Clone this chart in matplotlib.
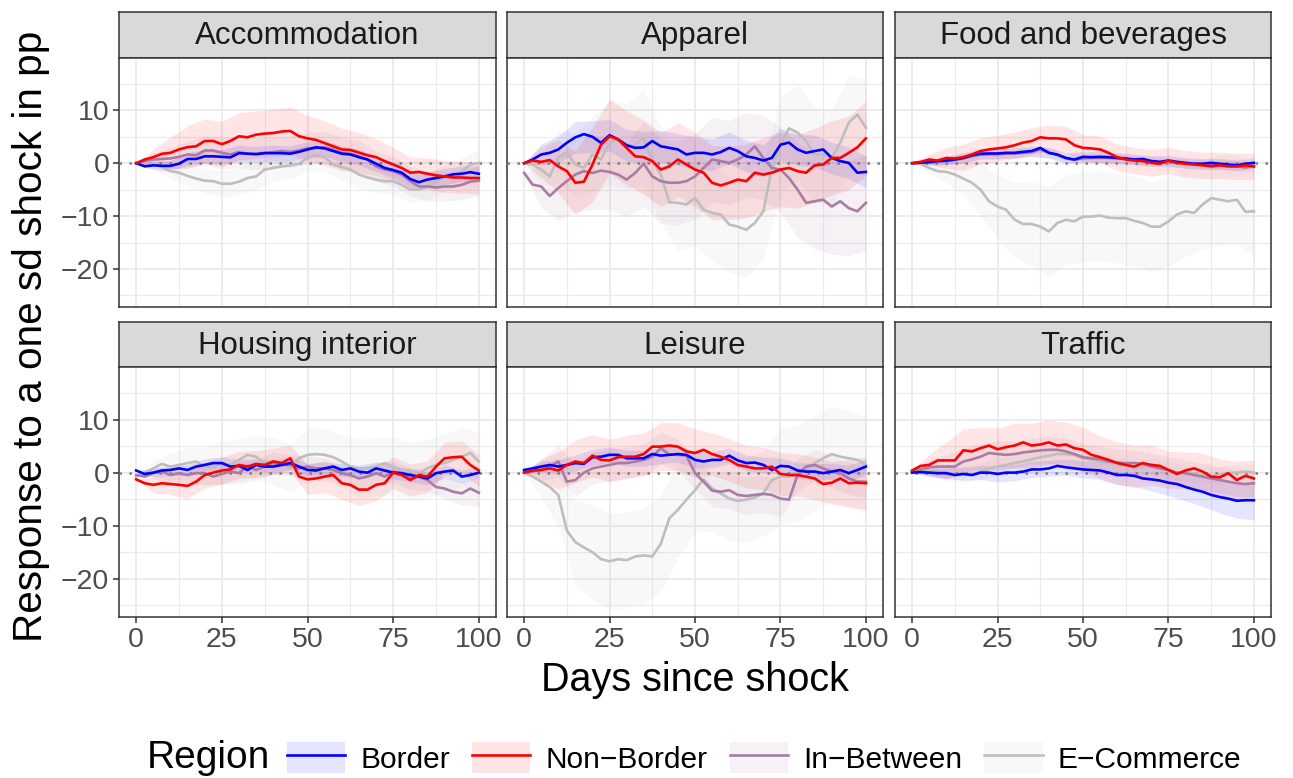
import numpy as np
import matplotlib.pyplot as plt
from matplotlib.lines import Line2D
from matplotlib.patches import Patch
from matplotlib.legend_handler import HandlerTuple

plt.rcParams['font.family'] = ['Liberation Sans', 'DejaVu Sans']

# impulse responses, one value every 2.5 days (0..100)
days = np.arange(0, 101, 2.5)
ci_days = days[::2]

sectors = ['Accommodation', 'Apparel', 'Food and beverages',
           'Housing interior', 'Leisure', 'Traffic']
regions = ['Border', 'Non\u2212Border', 'In\u2212Between', 'E\u2212Commerce']

# Accommodation
acc_bd = [0, -0.6, -0.4, -0.5, -0.5, -0.1, 0.8, 0.8, 1.3, 1.3, 1.2, 1.1, 1.9, 1.8, 1.7, 1.9, 1.9, 1.9, 1.8, 2.15,
          2.6, 3.0, 2.8, 2.3, 1.8, 1.65, 1.14, 0.7, -0.1, -0.9, -1.3, -1.8, -3.0, -3.6, -3.1, -2.8, -2.5, -2.1, -2.0, -1.7, -2.0]
acc_nb = [0, 0.7, 1.14, 1.77, 1.96, 2.6, 3.04, 3.2, 4.2, 4.2, 3.6, 4.2, 5.1, 4.9, 5.4, 5.6, 5.7, 6.0, 6.1, 5.1,
          4.7, 4.4, 3.8, 3.2, 2.6, 2.5, 2.0, 1.5, 1.14, 0.4, -0.25, -0.9, -1.8, -1.65, -2.0, -2.3, -2.5, -2.7, -2.7, -2.8, -2.8]
acc_ib = [0, 0.4, 0.7, 0.8, 0.9, 1.2, 1.65, 1.5, 2.4, 2.4, 1.96, 1.65, 2.1, 1.8, 1.8, 1.96, 2.1, 2.3, 2.15, 2.4,
          2.8, 2.9, 3.0, 2.6, 1.96, 1.8, 1.3, 0.7, -0.6, -1.2, -1.5, -2.15, -3.4, -4.4, -4.4, -4.6, -4.4, -4.4, -4.1, -3.5, -3.3]
acc_ec = [0, -0.1, -0.1, -0.75, -1.5, -1.8, -2.4, -2.9, -3.3, -3.4, -3.9, -3.9, -3.5, -2.8, -2.5, -1.2, -0.9, -0.6, -0.4, -0.1,
          1.0, 1.5, 1.14, -0.25, -0.75, -1.2, -2.15, -2.7, -3.1, -3.4, -3.4, -4.1, -5.0, -5.0, -4.4, -3.4, -2.8, -2.3, -1.5, -0.25, 0.06]
acc_bd_ci = [0, 0.8, 1.0, 1.2, 1.3, 1.4, 1.5, 1.5, 1.5, 1.5, 1.5, 1.5, 1.5, 1.5, 1.5, 1.5, 1.5, 1.5, 1.5, 1.5, 1.5]
acc_nb_ci = [0, 1.5, 3.0, 4.0, 4.2, 4.3, 4.5, 4.5, 4.5, 4.5, 4.3, 4.2, 4.0, 3.8, 3.5, 3.2, 3.0, 3.0, 3.0, 3.0, 3.0]
acc_ib_ci = [0, 1.2, 2.0, 2.5, 2.8, 3.0, 3.0, 3.0, 3.0, 3.0, 3.0, 3.0, 3.0, 3.0, 2.8, 2.8, 2.8, 2.8, 2.8, 2.8, 2.8]
acc_ec_ci = [0, 1.0, 1.5, 2.0, 2.3, 2.5, 2.5, 2.5, 2.5, 2.5, 2.5, 2.5, 2.5, 2.5, 2.5, 2.5, 2.5, 2.5, 2.5, 2.5, 2.5]

# Apparel
app_bd = [0, 0.7, 1.65, 1.96, 2.6, 3.86, 4.9, 5.5, 5.0, 3.86, 5.3, 4.5, 3.4, 2.9, 3.0, 4.2, 3.2, 2.9, 2.6, 1.65,
          1.96, 1.96, 1.65, 2.1, 2.9, 2.3, 1.3, 1.0, 0.5, 1.0, 3.5, 3.9, 2.6, 1.96, 2.3, 2.6, 1.0, 0.4, 0.06, -1.8, -1.65]
app_nb = [0, 0.5, 0.25, 0.6, -0.6, -1.5, -3.7, -3.5, -0.25, 3.5, 5.1, 4.5, 2.9, 1.3, 1.14, 0.4, -1.2, -0.6, 0.7, -0.25,
          -1.2, -1.8, -3.7, -4.2, -3.7, -3.1, -3.4, -1.8, -2.15, -1.8, -1.2, -0.9, -1.5, -1.8, -0.4, -0.25, 1.0, 1.0, 1.96, 3.0, 4.7]
app_ib = [-1.84, -4.05, -4.4, -6.2, -4.7, -3.4, -2.15, -1.5, -1.84, -1.4, -1.65, -2.15, -3.1, -1.84, -0.1, -2.5, -3.4, -3.7, -3.7, -3.4,
          -2.5, -0.9, 0.7, 0.4, 0.06, 0.7, 1.65, 3.2, 1.0, -0.9, -1.2, -2.8, -5.0, -7.5, -7.2, -6.9, -8.2, -7.2, -8.5, -9.1, -7.5]
app_ec = [0, -0.25, -1.2, -2.5, 1.14, 1.96, -0.25, -0.9, 1.65, 0.7, 3.9, 4.5, 3.2, 3.5, 4.8, 0.4, -2.15, -7.4, -7.5, -7.8,
          -6.6, -8.8, -9.4, -9.7, -11.6, -12.0, -12.6, -11.3, -9.1, -0.9, 3.5, 6.6, 5.8, 4.2, 1.65, 1.65, 1.0, 3.9, 7.7, 9.2, 6.7]
app_bd_ci = [0, 2, 2.5, 3, 3, 3, 3, 3, 3, 3, 3, 3, 3, 3, 3, 3, 3, 3, 3, 3, 3]
app_nb_ci = [0, 3, 5, 6, 7, 7, 7, 7, 7, 7, 7, 7, 7, 7, 7, 7, 7, 7, 7, 7, 7]
app_ib_ci = [0, 4, 6, 7, 7, 7, 7, 8, 8, 8, 8, 8, 8, 8, 8, 8, 9, 9, 9, 9, 9]
app_ec_ci = [0, 3, 5, 6, 7, 8, 8, 9, 9, 9, 9, 9, 9, 9, 9, 9, 9, 9, 9, 9, 9]

# Food and beverages
food_bd = [0, 0.1, 0.2, 0.4, 0.5, 0.7, 1.0, 1.5, 1.8, 1.84, 1.84, 1.96, 1.96, 2.15, 2.3, 2.9, 1.96, 1.65, 1.0, 0.7,
           1.2, 1.14, 1.2, 1.14, 1.0, 0.9, 0.7, 0.8, 0.4, 0.25, 0.5, 0.25, 0.06, -0.1, -0.1, 0.06, -0.1, -0.25, -0.4, -0.1, 0.06]
food_nb = [0, 0.25, 0.7, 0.5, 1.0, 0.9, 1.14, 1.65, 2.3, 2.6, 2.8, 3.0, 3.4, 3.9, 4.2, 4.9, 4.7, 4.7, 4.5, 3.4,
           2.9, 2.8, 2.6, 1.96, 1.14, 0.7, 0.5, 0.4, 0.06, -0.1, 0.5, 0.06, -0.1, -0.25, -0.4, -0.6, -0.4, -0.6, -0.6, -0.4, -0.6]
food_ib = [0, 0.1, 0.15, 0.3, 0.4, 0.6, 0.9, 1.3, 1.6, 1.7, 1.7, 1.8, 1.8, 1.96, 2.1, 2.6, 2.0, 1.5, 0.9, 0.6,
           0.9, 1.0, 1.0, 1.0, 0.9, 0.8, 0.6, 0.5, 0.4, 0.2, 0.1, 0.2, 0.0, -0.2, -0.3, -0.4, -0.3, -0.5, -0.6, -0.8, -0.6]
food_ec = [0, -0.1, -0.9, -1.5, -1.65, -2.15, -2.9, -3.7, -5.0, -7.2, -8.2, -8.8, -10.7, -11.5, -11.5, -12.0, -12.9, -11.3, -10.7, -11.0,
           -10.1, -10.1, -9.9, -10.3, -10.4, -10.4, -10.9, -11.3, -12.0, -12.0, -11.0, -9.7, -9.1, -9.4, -7.8, -6.6, -6.9, -7.2, -6.9, -9.2, -9.1]
food_bd_ci = [0, 0.5, 0.8, 1, 1, 1, 1, 1, 1, 1, 1, 1, 1, 1, 1, 1, 1, 1, 1, 1, 1]
food_nb_ci = [0, 1, 2, 2.5, 2.5, 2.5, 2.5, 2.5, 2.5, 2.5, 2.5, 2.5, 2.5, 2.5, 2.5, 2.5, 2.5, 2.5, 2.5, 2.5, 2.5]
food_ib_ci = [0, 0.5, 0.7, 0.9, 0.9, 0.9, 0.9, 0.9, 0.9, 0.9, 0.9, 0.9, 0.9, 0.9, 0.9, 0.9, 0.9, 0.9, 0.9, 0.9, 0.9]
food_ec_ci = [0, 1, 2, 3, 5, 6, 7, 8, 8.5, 8.5, 8.5, 8.5, 8.5, 8.5, 8.5, 8.5, 8.5, 8.5, 8.5, 8.5, 8.5]

# Housing interior
house_bd = [0.4, -0.25, 0, 0.4, 0.5, 0.8, 0.5, 1.14, 1.45, 1.8, 1.8, 1.14, 1.27, 0.5, 1.45, 1.14, 1.14, 1.45, 1.8, 1.14,
            0.5, 0.4, 0.8, 1.14, 0.5, 0.8, 0.2, 0, 0.8, 0.4, 0, -0.1, -0.45, -0.75, -1.1, -0.1, 0.2, 0.4, -0.75, -0.45, 0]
house_nb = [-1.27, -2.0, -2.3, -2.0, -2.15, -2.3, -2.5, -1.7, -0.45, 0, 0.4, 0.6, 1.45, 1.14, 1.65, 1.45, 2.1, 1.8, 2.7, -0.75,
            -1.27, -1.1, -0.75, -0.45, -2.0, -2.3, -3.2, -3.2, -2.3, -2.0, 0, -0.45, -1.4, -0.45, -0.75, 1.14, 2.7, 2.9, 3.0, 1.45, 0.4]
house_ib = [-0.45, -0.75, -0.1, 0.2, -0.45, -0.1, -0.45, -0.1, -0.1, -0.75, -0.25, 0.2, -0.1, 1.27, 0.5, 1.14, 1.8, 1.45, 1.45, 0.8,
            1.14, 0.8, 0.8, 0.5, -0.1, -0.45, -1.1, -0.75, -0.1, -0.75, 0.2, -0.1, -1.1, -0.75, -1.4, -2.7, -3.0, -3.6, -3.9, -3.0, -3.8]
house_ec = [-0.75, 0, 0.8, 1.65, 1.14, 1.45, 1.8, 2.1, 1.14, 1.0, 1.8, 1.45, 2.4, 3.35, 3.0, 1.8, 2.1, 1.8, 0.8, 2.7,
            3.35, 3.5, 3.35, 2.9, 2.1, 1.14, 0.8, 0.8, 1.14, 1.8, 1.14, 0.5, 0.2, -0.1, 0.8, 1.45, 1.8, 2.4, 3.0, 3.7, 2.1]
house_bd_ci = [0, 0.8, 1, 1, 1.2, 1.2, 1.2, 1.2, 1.2, 1.2, 1.2, 1.2, 1.2, 1.2, 1.2, 1.2, 1.2, 1.2, 1.2, 1.2, 1.2]
house_nb_ci = [0, 1.5, 2, 2.5, 2.5, 2.5, 2.5, 2.5, 2.5, 2.5, 2.8, 3, 3, 3, 3, 3, 3, 3, 3, 3, 3]
house_ib_ci = [0, 1, 1.5, 2, 2, 2, 2, 2, 2, 2, 2, 2, 2, 2, 2, 2, 2, 2, 2, 2.2, 2.5]
house_ec_ci = [0, 1.5, 2.5, 3, 3.5, 4, 4, 4, 4.5, 4.5, 5, 5, 5, 5.5, 5.5, 5.5, 5.5, 5.5, 5.5, 5.5, 5.5]

# Leisure
leis_bd = [0.5, 0.8, 1.14, 1.45, 1.14, 1.45, 1.8, 1.65, 2.9, 3.0, 3.35, 3.35, 2.7, 2.7, 2.7, 3.5, 3.2, 3.35, 3.5, 3.35,
           2.4, 2.1, 2.4, 2.4, 3.2, 2.3, 1.8, 1.9, 1.45, 0.5, 1.27, 1.14, 0.4, 0.2, 0.2, -0.1, 0.2, 0.5, -0.1, 0.5, 1.14]
leis_nb = [0, 0.4, 0.5, 0.8, 0.4, 1.45, 2.1, 1.8, 3.2, 2.4, 2.3, 2.9, 3.0, 3.0, 3.5, 4.9, 4.9, 5.1, 4.9, 4.0,
           3.7, 4.3, 3.5, 3.0, 2.4, 1.45, 1.14, 0.8, 0.8, 1.14, -0.25, -0.45, -0.45, -0.75, -1.1, -2.15, -1.9, -1.1, -2.0, -1.9, -2.0]
leis_ib = [0, 0.2, 0.5, 1.14, 2.1, -1.7, -1.4, 0, 0.8, 1.14, 1.45, 1.8, 1.8, 2.1, 2.4, 3.0, 4.6, 3.4, 3.35, 3.2,
           -0.1, -1.7, -3.4, -3.6, -3.3, -4.2, -4.4, -4.2, -4.0, -4.2, -4.9, -5.1, -0.45, 1.14, 1.45, 0.8, 0.2, -0.1, -1.1, -1.7, -1.7]
leis_ec = [0, -0.75, -1.7, -2.7, -4.2, -10.9, -13.1, -14.1, -15.0, -16.3, -16.7, -16.3, -16.5, -15.8, -15.6, -15.8, -13.4, -8.6, -7.0, -5.1,
           -3.3, -1.27, -3.0, -3.9, -4.9, -5.3, -5.1, -4.7, -3.9, -1.4, -0.75, -0.75, -0.1, 0.5, 1.8, 2.7, 3.5, 3.0, 2.7, 2.4, 1.45]
leis_bd_ci = [0, 1, 1.3, 1.5, 1.5, 1.5, 1.5, 1.5, 1.5, 1.5, 1.5, 1.5, 1.5, 1.5, 1.5, 1.5, 1.5, 1.5, 1.5, 1.5, 1.5]
leis_nb_ci = [0, 2, 3.5, 4, 4, 4, 4, 4, 4.5, 4.5, 4.5, 4, 4, 4, 4, 4, 4, 4, 4, 4.5, 5]
leis_ib_ci = [0, 2, 3, 3, 3, 3, 3, 3, 3, 3, 3, 3, 3.5, 3.5, 3.5, 3.5, 3, 3, 3, 3, 3]
leis_ec_ci = [0, 3, 6, 8, 9, 9, 9, 9, 9, 9, 8, 8, 8, 8, 8, 9, 9, 9, 9, 9, 9]

# Traffic
traf_bd = [0, 0.1, 0, -0.1, -0.1, -0.45, -0.25, -0.45, 0, 0, -0.25, 0, 0, 0.2, 0.6, 0.6, 0.8, 1.27, 1.0, 0.8,
           0.6, 0.5, 0.4, 0, -0.45, -0.45, -0.6, -1.1, -1.27, -1.5, -1.9, -2.15, -2.7, -3.2, -3.6, -4.2, -4.6, -4.9, -5.3, -5.2, -5.2]
traf_nb = [0.4, 1.27, 1.45, 2.3, 2.3, 2.3, 4.2, 4.0, 4.6, 5.1, 4.4, 4.8, 5.1, 5.7, 5.1, 5.3, 5.7, 5.1, 5.3, 4.6,
           4.3, 3.35, 2.9, 2.4, 1.8, 1.45, 1.14, 1.8, 1.45, 1.27, 0.5, -0.25, 0.4, 0.8, 0.2, -0.75, -0.9, -0.1, -1.4, -0.6, -1.1]
traf_ib = [0.1, 0.6, 1.0, 1.14, 1.14, 1.14, 2.1, 2.5, 3.0, 3.7, 3.5, 3.35, 3.5, 3.8, 4.0, 4.2, 4.3, 4.3, 4.0, 3.5,
           2.9, 2.7, 2.5, 2.1, 1.9, 1.8, 1.8, 1.65, 1.14, 0.8, 0.5, 0, -0.1, -0.45, -0.75, -1.1, -1.4, -1.7, -2.0, -2.15, -2.0]
traf_ec = [0.1, 0.4, 0.5, 0.2, -0.1, -0.45, -0.25, -0.45, 0.2, 0.8, 1.14, 1.45, 1.8, 2.1, 2.5, 2.9, 3.2, 3.5, 3.5, 3.35,
           2.7, 2.4, 2.1, 1.8, 1.45, 1.27, 0.8, 1.14, 1.14, 0.8, 0.5, 0, -0.1, -0.1, -0.45, -0.75, -0.45, -0.1, 0, 0.2, 0]
traf_bd_ci = [0, 0.8, 1.0, 1.2, 1.3, 1.5, 1.5, 1.5, 1.5, 1.5, 1.6, 1.7, 1.8, 2.0, 2.2, 2.4, 2.6, 2.8, 3.0, 3.3, 3.7]
traf_nb_ci = [0, 2, 3.5, 4, 4, 4, 4.2, 4.2, 4.2, 4.2, 4.2, 4, 4, 4, 3.8, 3.5, 3.5, 3.5, 3.5, 3.5, 3.5]
traf_ib_ci = [0, 1.5, 2.2, 2.5, 2.5, 2.5, 2.5, 2.5, 2.5, 2.5, 2.5, 2.5, 2.5, 2.5, 2.5, 2.5, 2.5, 2.5, 2.5, 2.5, 2.5]
traf_ec_ci = [0, 1, 1.5, 1.5, 1.5, 1.5, 1.5, 1.5, 1.5, 1.5, 1.5, 1.5, 1.5, 1.5, 1.5, 1.5, 1.5, 1.5, 1.5, 1.5, 1.5]

lines = [
    [acc_bd, acc_nb, acc_ib, acc_ec],
    [app_bd, app_nb, app_ib, app_ec],
    [food_bd, food_nb, food_ib, food_ec],
    [house_bd, house_nb, house_ib, house_ec],
    [leis_bd, leis_nb, leis_ib, leis_ec],
    [traf_bd, traf_nb, traf_ib, traf_ec],
]
cis = [
    [acc_bd_ci, acc_nb_ci, acc_ib_ci, acc_ec_ci],
    [app_bd_ci, app_nb_ci, app_ib_ci, app_ec_ci],
    [food_bd_ci, food_nb_ci, food_ib_ci, food_ec_ci],
    [house_bd_ci, house_nb_ci, house_ib_ci, house_ec_ci],
    [leis_bd_ci, leis_nb_ci, leis_ib_ci, leis_ec_ci],
    [traf_bd_ci, traf_nb_ci, traf_ib_ci, traf_ec_ci],
]

colors = ['#0000FF', '#FF0000', '#A97BA5', '#BEBEBE']
band_alpha = 0.1
draw_order = [3, 2, 0, 1]

W, H = 1293, 778
fig = plt.figure(figsize=(W / 100, H / 100), dpi=100)


def box(l, t, r, b):
    return [l / W, 1 - b / H, (r - l) / W, (b - t) / H]


cols = [(119, 496), (507, 883), (895, 1271)]
rows = [(58, 307), (367, 617)]
strips = [(12, 58), (322, 367)]

for k, name in enumerate(sectors):
    r, c = divmod(k, 3)
    l, rr = cols[c]
    t, b = rows[r]

    # strip with the facet title
    sax = fig.add_axes(box(l, strips[r][0], rr, strips[r][1]))
    sax.set_facecolor('#D9D9D9')
    sax.set_xticks([])
    sax.set_yticks([])
    for sp in sax.spines.values():
        sp.set_color('#333333')
        sp.set_linewidth(1.1)
    sax.text(0.5, 0.47, name, ha='center', va='center', fontsize=22.5, color='#1A1A1A',
             transform=sax.transAxes)

    ax = fig.add_axes(box(l, t, rr, b))
    ax.set_xlim(-5, 105)
    ax.set_ylim(-27.2, 19.9)
    ax.set_xticks([0, 25, 50, 75, 100])
    ax.set_xticks([12.5, 37.5, 62.5, 87.5], minor=True)
    ax.set_yticks([-20, -10, 0, 10])
    ax.set_yticks([-25, -15, -5, 5, 15], minor=True)
    ax.grid(which='major', color='#EBEBEB', lw=1.3)
    ax.grid(which='minor', color='#EBEBEB', lw=0.8)
    ax.set_axisbelow(True)
    ax.tick_params(which='minor', length=0)
    ax.tick_params(which='major', length=4, width=1.1, color='#333333',
                   labelsize=20.5, labelcolor='#4D4D4D', pad=3)
    for sp in ax.spines.values():
        sp.set_color('#333333')
        sp.set_linewidth(1.1)
    if r == 0:
        ax.tick_params(axis='x', length=0, labelbottom=False)
    if c > 0:
        ax.tick_params(axis='y', length=0, labelleft=False)

    for j in draw_order:
        y = np.array(lines[k][j])
        hw = np.array(cis[k][j])
        ax.fill_between(ci_days, y[::2] - hw, y[::2] + hw, color=colors[j],
                        alpha=band_alpha, lw=0)
    ax.axhline(0, color='#7F7F7F', lw=1.8, ls=(0, (1, 3)), zorder=3)
    for j in draw_order:
        ax.plot(days, lines[k][j], color=colors[j], lw=1.9, zorder=4)

fig.text(695 / W, 1 - 680 / H, 'Days since shock', ha='center', va='center', fontsize=28.5)
fig.text(31 / W, 1 - 336 / H, 'Response to a one sd shock in pp', ha='center', va='center',
         rotation=90, fontsize=29.2)

# legend along the bottom
handles = []
for j in range(4):
    handles.append((Patch(facecolor=colors[j], alpha=band_alpha, edgecolor='none'),
                    Line2D([], [], color=colors[j], lw=1.9)))
fig.text(147 / W, 1 - 758 / H, 'Region', ha='left', va='center', fontsize=28)
fig.legend(handles, regions, handler_map={tuple: HandlerTuple(ndivide=1)},
           loc='center left', bbox_to_anchor=(287 / W, 1 - 758 / H), ncol=4,
           frameon=False, fontsize=21.5, handlelength=1.95, handleheight=1.2,
           handletextpad=0.5, columnspacing=0.75, borderpad=0, borderaxespad=0)

fig.savefig('out.png', dpi=100)
